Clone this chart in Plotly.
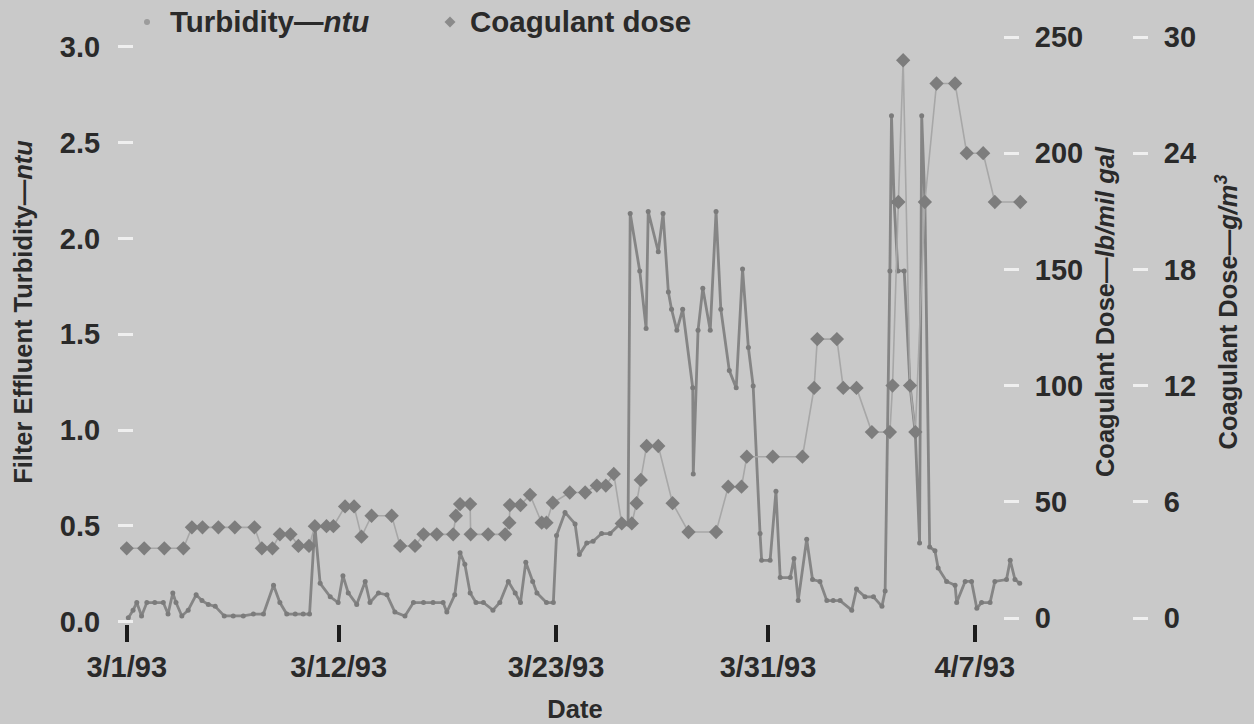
import plotly.graph_objects as go

# ---------------- data ----------------
# x positions are sample numbers; the date labels mark where each date starts
date_ticks = [0, 40, 81, 121, 160]
date_labels = ["3/1/93", "3/12/93", "3/23/93", "3/31/93", "4/7/93"]

turb_sample = [0.3, 1.2, 1.9, 2.8, 3.8, 5.3, 6.9, 7.8, 8.7, 9.3,
               10.4, 11.6, 13.1, 14.2, 15.4, 16.7, 18.4, 20.1, 22.0, 23.9,
               25.8, 27.7, 28.9, 30.2, 31.8, 33.3, 34.5, 35.5, 36.5, 38.4,
               39.9, 40.8, 41.8, 43.4, 45.0, 45.9, 47.5, 49.1, 50.6, 52.5,
               54.1, 56.0, 57.8, 59.7, 60.4, 61.9, 62.9, 63.8, 64.8, 65.9,
               67.3, 69.1, 70.4, 72.0, 73.3, 74.3, 75.3, 76.6, 77.4, 79.2,
               80.5, 81.1, 82.7, 84.6, 85.4, 86.8, 88.0, 89.6, 91.2, 93.1,
               94.6, 95.0, 96.8, 98.0, 98.4, 100.3, 101.2, 102.2, 102.8, 103.8,
               104.9, 106.8, 106.9, 107.8, 108.7, 110.1, 111.2, 112.1, 113.7, 115.0,
               116.2, 117.3, 118.2, 119.5, 119.8, 121.4, 122.5, 123.3, 125.2, 125.9,
               126.7, 128.3, 129.4, 130.8, 132.1, 133.3, 134.6, 136.8, 137.7, 139.3,
               140.9, 142.5, 143.1, 144.0, 144.3, 144.8, 145.5, 146.7, 147.8, 148.8,
               149.6, 150.0, 150.6, 151.5, 152.5, 153.1, 154.7, 156.3, 156.6, 158.2,
               159.4, 160.4, 161.3, 162.9, 163.8, 166.0, 166.7, 167.6, 168.5]

turb_ntu = [0.02, 0.06, 0.10, 0.03, 0.10, 0.10, 0.10, 0.04, 0.15, 0.10,
            0.03, 0.06, 0.14, 0.11, 0.09, 0.08, 0.03, 0.03, 0.03, 0.04,
            0.04, 0.19, 0.10, 0.04, 0.04, 0.04, 0.04, 0.50, 0.20, 0.13,
            0.10, 0.24, 0.15, 0.09, 0.21, 0.10, 0.15, 0.14, 0.05, 0.03,
            0.10, 0.10, 0.10, 0.10, 0.05, 0.14, 0.36, 0.30, 0.15, 0.10,
            0.10, 0.06, 0.10, 0.21, 0.15, 0.10, 0.31, 0.21, 0.15, 0.10,
            0.10, 0.45, 0.57, 0.51, 0.35, 0.41, 0.42, 0.46, 0.46, 0.51,
            0.51, 2.13, 1.83, 1.53, 2.14, 1.93, 2.13, 1.72, 1.63, 1.52,
            1.63, 1.22, 0.77, 1.52, 1.74, 1.52, 2.14, 1.63, 1.31, 1.22,
            1.84, 1.43, 1.23, 0.46, 0.32, 0.32, 0.68, 0.23, 0.23, 0.33,
            0.11, 0.43, 0.22, 0.21, 0.11, 0.11, 0.11, 0.06, 0.17, 0.13,
            0.13, 0.08, 0.16, 1.83, 2.64, 2.19, 1.83, 1.83, 1.23, 0.98,
            0.41, 2.64, 2.19, 0.39, 0.37, 0.28, 0.21, 0.19, 0.10, 0.21,
            0.21, 0.07, 0.10, 0.10, 0.21, 0.22, 0.32, 0.22, 0.20]

coag_sample = [0.0, 3.3, 7.1, 10.7, 12.3, 14.3, 17.3, 20.4, 24.1, 25.5,
               27.5, 28.9, 30.9, 32.4, 34.4, 35.5, 37.7, 39.0, 41.2, 42.9,
               44.3, 46.2, 50.0, 51.6, 54.4, 56.0, 58.5, 61.6, 62.1, 62.9,
               64.8, 64.9, 68.2, 71.4, 72.2, 72.3, 74.3, 76.1, 78.3, 79.2,
               80.4, 83.6, 86.5, 88.7, 90.4, 91.9, 93.4, 95.3, 96.2, 97.0,
               98.1, 100.3, 103.0, 106.0, 111.2, 113.5, 116.0, 117.0, 121.9, 127.5,
               129.7, 130.3, 134.0, 135.2, 137.7, 140.6, 144.0, 144.5, 145.6, 146.5,
               147.8, 148.8, 150.6, 152.8, 156.3, 158.5, 161.6, 163.8, 168.6]

coag_lb = [30, 30, 30, 30, 39, 39, 39, 39, 39, 30,
           30, 36, 36, 31, 31, 39.5, 39.5, 39.5, 48, 48,
           35, 44, 44, 31, 31, 36, 36, 36, 44, 49,
           49, 36, 36, 36, 41, 48.6, 48.6, 53, 41, 41,
           49.6, 54, 54, 57, 57, 62, 40.7, 40.7, 49.4, 59.4,
           74, 74, 49.4, 37, 37, 56.5, 56.5, 69.4, 69.4, 69.4,
           99, 120, 120, 99, 99, 80, 80, 100, 179, 240,
           100, 80, 179, 230, 230, 200, 200, 179, 179]

ntu_ticks = [0.0, 0.5, 1.0, 1.5, 2.0, 2.5, 3.0]
lb_ticks = [0, 50, 100, 150, 200, 250]
gm3_ticks = [0, 6, 12, 18, 24, 30]

# ---------------- styling ----------------
INK = "#2a2a2a"
BG = "#c9c9c9"
TICK_LIGHT = "#efefef"
FONT = "Liberation Sans"
FS_TICK = 29
FS_TITLE = 25.5
FS_LEGEND = 29.5
TURB_KEY = "#9c9c9c"
COAG_KEY = "#8a8a8a"

W, H = 1254, 724
ML, MR, MT, MB = 120, 10, 0, 100
PW = W - ML - MR          # plotting width in px
PH = H - MT - MB          # plotting height in px

X_PX_PER_SAMPLE = 5.3
x_min = -(126.7 - ML) / X_PX_PER_SAMPLE
x_dom = 910 / PW
x_max = x_min + 910 / X_PX_PER_SAMPLE

ntu_per_px = 3.0 / (621.7 - 46.7)
ntu_min = -(MT + PH - 621.7) * ntu_per_px
ntu_max = ntu_min + PH * ntu_per_px

lb_per_px = 250 / (618 - 37)
lb_min = -(MT + PH - 618) * lb_per_px
lb_max = lb_min + PH * lb_per_px
LB_TO_GM3 = 30 / 250


def px(xp):
    """page x (px) -> paper fraction"""
    return (xp - ML) / PW


def py(yp):
    """page y (px, from top) -> paper fraction"""
    return 1 - (yp - MT) / PH


fig = go.Figure()

fig.add_trace(go.Scatter(
    x=coag_sample, y=coag_lb, yaxis="y2", mode="lines+markers",
    line=dict(color="#a7a7a7", width=1.6),
    marker=dict(symbol="diamond", size=11, color="#7d7d7d"),
    showlegend=False, hoverinfo="skip"))

fig.add_trace(go.Scatter(
    x=turb_sample, y=turb_ntu, mode="lines+markers",
    line=dict(color="#858585", width=2.8),
    marker=dict(symbol="circle", size=5, color="#7b7b7b"),
    showlegend=False, hoverinfo="skip"))

# empty trace so the metric dose scale is laid out
fig.add_trace(go.Scatter(x=[None], y=[None], yaxis="y3", mode="markers",
                         showlegend=False, hoverinfo="skip"))

# ---- key across the top: symbols as shapes, labels as annotations ----
LEG_Y = 22
shapes = [
    dict(type="circle", xref="paper", yref="paper",
         x0=px(144), x1=px(150), y0=py(LEG_Y + 3), y1=py(LEG_Y - 3),
         fillcolor=TURB_KEY, line=dict(width=0)),
    dict(type="path", xref="paper", yref="paper",
         path=(f"M {px(450)} {py(LEG_Y - 5.5)} L {px(455.5)} {py(LEG_Y)} "
               f"L {px(450)} {py(LEG_Y + 5.5)} L {px(444.5)} {py(LEG_Y)} Z"),
         fillcolor=COAG_KEY, line=dict(width=0)),
]
annotations = [
    dict(text="Turbidity—<i>ntu</i>", xref="paper", yref="paper",
         x=px(168), y=py(LEG_Y), xanchor="left", yanchor="middle",
         showarrow=False, font=dict(size=FS_LEGEND)),
    dict(text="Coagulant dose", xref="paper", yref="paper",
         x=px(468), y=py(LEG_Y), xanchor="left", yanchor="middle",
         showarrow=False, font=dict(size=FS_LEGEND)),
]

axis_common = dict(showgrid=False, zeroline=False, showline=False,
                   ticks="outside", fixedrange=True,
                   tickfont=dict(size=FS_TICK))
title_font = dict(size=FS_TITLE)

fig.update_layout(
    width=W, height=H,
    margin=dict(l=ML, r=MR, t=MT, b=MB, pad=0),
    paper_bgcolor=BG, plot_bgcolor=BG,
    font=dict(family=FONT, size=FS_TICK, color=INK, weight="bold"),
    showlegend=False,
    shapes=shapes,
    annotations=annotations,
    xaxis=dict(axis_common, domain=[0, x_dom], range=[x_min, x_max],
               tickvals=date_ticks, ticktext=date_labels,
               ticklen=17, tickwidth=4, tickcolor="#1c1c1c",
               ticklabelstandoff=0,
               title=dict(text="Date", standoff=18, font=title_font)),
    yaxis=dict(axis_common, anchor="free", position=13 / PW, side="left",
               range=[ntu_min, ntu_max], tickvals=ntu_ticks, tickformat=".1f",
               ticklen=15, tickwidth=3, tickcolor=TICK_LIGHT,
               ticklabelstandoff=12,
               title=dict(text="Filter Effluent Turbidity—<i>ntu</i>",
                          standoff=18, font=title_font)),
    yaxis2=dict(axis_common, anchor="free", overlaying="y", side="right",
                position=883 / PW,
                range=[lb_min, lb_max], tickvals=lb_ticks,
                ticklen=15, tickwidth=3, tickcolor=TICK_LIGHT,
                ticklabelstandoff=10,
                title=dict(text="Coagulant Dose—<i>lb/mil gal</i>",
                           standoff=13, font=title_font)),
    yaxis3=dict(axis_common, anchor="free", overlaying="y", side="right",
                position=1012 / PW,
                range=[lb_min * LB_TO_GM3, lb_max * LB_TO_GM3], tickvals=gm3_ticks,
                ticklen=15, tickwidth=3, tickcolor=TICK_LIGHT,
                ticklabelstandoff=10,
                title=dict(text="Coagulant Dose—<i>g/m<sup>3</sup></i>",
                           standoff=24, font=title_font)),
)

fig.write_html("out.html")
